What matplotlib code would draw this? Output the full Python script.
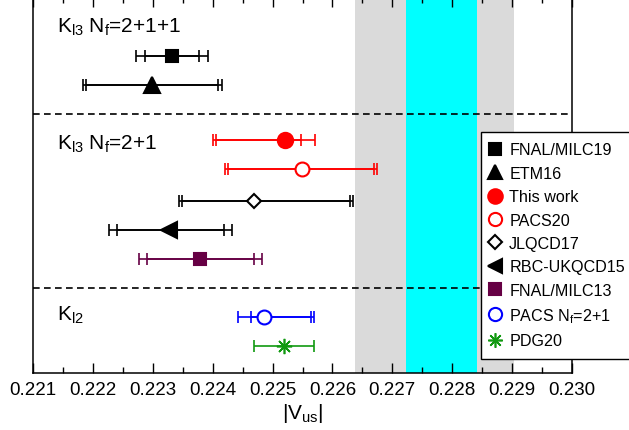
import matplotlib
matplotlib.use("Agg")
import matplotlib.pyplot as plt
from matplotlib.lines import Line2D
from matplotlib.ticker import MultipleLocator
import numpy as np

plt.rcParams['font.family'] = ['Liberation Sans', 'DejaVu Sans']
plt.rcParams['mathtext.fontset'] = 'custom'
plt.rcParams['mathtext.rm'] = 'Liberation Sans'
plt.rcParams['mathtext.it'] = 'Liberation Sans'

# ---- data ----
labels = ["FNAL/MILC19", "ETM16", "This work", "PACS20", "JLQCD17",
          "RBC-UKQCD15", "FNAL/MILC13", "PACS N$_f$=2+1", "PDG20"]
center = [0.22332, 0.22299, 0.22521, 0.22549, 0.22469,
          0.22327, 0.22379, 0.22486, 0.22519]
outer_lo = [0.22272, 0.22183, 0.22400, 0.22420, 0.22343,
            0.22227, 0.22277, 0.22442, 0.22469]
outer_hi = [0.22392, 0.22415, 0.22571, 0.22675, 0.22635,
            0.22432, 0.22482, 0.22569, 0.22569]
inner_lo = [0.22287, 0.22188, 0.22405, 0.22426, 0.22348,
            0.22240, 0.22290, 0.22464, np.nan]
inner_hi = [0.22377, 0.22409, 0.22547, 0.22669, 0.22630,
            0.22419, 0.22469, 0.22564, np.nan]
rows = [11, 10, 8.1, 7.1, 6, 5, 4, 2, 1]
colors = ["black", "black", "red", "red", "black", "black", "#660044", "blue", "#119911"]
markers = ["s", "^", "o", "o", "D", "<", "s", "o", (8, 2, 0)]
msizes = [9, 11, 11, 10, 7, 11, 9, 10, 11]
filled = [True, True, True, False, False, True, True, False, True]

gray_band = (0.22637, 0.22903)
cyan_band = (0.22723, 0.22842)
separators = [3, 9]
section_labels = ["K$_{l3}$ N$_f$=2+1+1", "K$_{l3}$ N$_f$=2+1", "K$_{l2}$"]
section_label_y = [11.83, 7.82, 1.89]

# ---- figure ----
W, H = 629, 431
fig = plt.figure(figsize=(W / 100, H / 100), dpi=100)
ax = fig.add_axes([33 / W, (H - 374) / H, (572 - 33) / W, 376 / H])
ax.set_xlim(0.221, 0.230)
ax.set_ylim(0.06, 13.04)

ax.axvspan(*gray_band, color="#dadada", lw=0, zorder=0)
ax.axvspan(*cyan_band, color="#00ffff", lw=0, zorder=0.5)
for s in separators:
    ax.axhline(s, color="black", lw=1.2, ls=(0, (4, 2.6)), zorder=1)

handles = []
for i in range(len(labels)):
    c = colors[i]
    x = center[i]
    y = rows[i]
    err_o = [[x - outer_lo[i]], [outer_hi[i] - x]]
    ax.errorbar([x], [y], xerr=err_o, fmt="none", ecolor=c, elinewidth=1.2,
                capsize=4.3, capthick=1.2, zorder=2)
    if not np.isnan(inner_lo[i]):
        err_i = [[x - inner_lo[i]], [inner_hi[i] - x]]
        ax.errorbar([x], [y], xerr=err_i, fmt="none", ecolor=c, elinewidth=1.2,
                    capsize=4.3, capthick=1.2, zorder=2)
    mfc = c if filled[i] else "white"
    mew = 1.2 if markers[i] == (8, 2, 0) else 1.5
    ax.plot([x], [y], marker=markers[i], ms=msizes[i], mfc=mfc, mec=c,
            mew=mew, ls="none", zorder=3)
    handles.append(Line2D([], [], marker=markers[i], ms=msizes[i] * 0.95,
                          mfc=mfc, mec=c, mew=mew, ls="none", label=labels[i]))

for t, yy in zip(section_labels, section_label_y):
    ax.text(0.2214, yy, t, fontsize=15, va="baseline", ha="left")

ax.xaxis.set_minor_locator(MultipleLocator(0.0005))
ax.set_xticks([0.221 + 0.001 * k for k in range(10)])
ax.set_xticklabels(["%.3f" % (0.221 + 0.001 * k) for k in range(10)], fontsize=13.5)
ax.tick_params(axis="x", which="major", direction="in", top=True, length=7, width=1, pad=6)
ax.tick_params(axis="x", which="minor", direction="in", top=True, length=4, width=1)
ax.set_yticks([])
for sp in ax.spines.values():
    sp.set_linewidth(1.1)
ax.set_xlabel("|V$_{\\rm us}$|", fontsize=15, labelpad=2)

leg = ax.legend(handles=handles, loc="upper left",
                bbox_to_anchor=(481 / W, (H - 133) / H),
                bbox_transform=fig.transFigure, frameon=True, fancybox=False,
                framealpha=1, edgecolor="black", fontsize=11.6,
                handlelength=0.5, handletextpad=0.6, borderpad=0.65,
                labelspacing=0.52, borderaxespad=0)
leg.get_frame().set_linewidth(1.0)
leg.set_zorder(10)

fig.savefig("out.png", dpi=100)
